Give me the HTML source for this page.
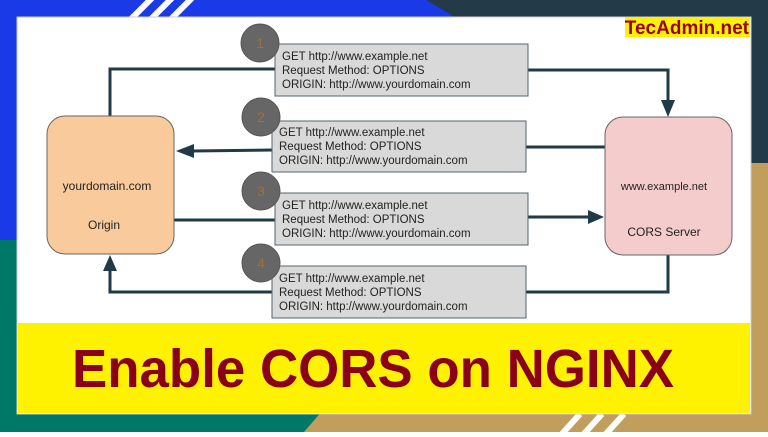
<!DOCTYPE html>
<html><head><style>
body{margin:0;width:768px;height:432px;overflow:hidden;font-family:"Liberation Sans",sans-serif}
</style></head><body>
<svg width="768" height="432" viewBox="0 0 768 432" xmlns="http://www.w3.org/2000/svg" font-family="Liberation Sans, sans-serif">
<rect width="768" height="432" fill="#c29e5c"/>
<polygon points="0,0 768,0 768,163 0,163" fill="#233a48"/>
<polygon points="0,0 426,0 460,20 470,240 0,240" fill="#1a3ae8"/>
<polygon points="0,240 470,240 304,432 0,432" fill="#007868"/>
<g stroke="#fff" stroke-width="6">
<line x1="130" y1="20" x2="152" y2="-2"/><line x1="150" y1="20" x2="172" y2="-2"/><line x1="170" y1="20" x2="192" y2="-2"/>
<line x1="560" y1="436" x2="580" y2="414"/><line x1="582" y1="436" x2="602" y2="414"/><line x1="604" y1="436" x2="624" y2="414"/>
</g>
<rect x="17" y="17" width="734" height="397" fill="#fff" stroke="#ccc"/>
<rect x="18" y="323" width="732" height="90" fill="#fff200"/>
<text x="72" y="387" font-size="54" font-weight="bold" fill="#8a0018" textLength="602" lengthAdjust="spacingAndGlyphs">Enable CORS on NGINX</text>
<rect x="625" y="17" width="125" height="20" fill="#fff200"/>
<text x="749" y="34" text-anchor="end" font-size="19" font-weight="bold" fill="#9a0010">TecAdmin.net</text>
<g stroke="#213a48" stroke-width="3" fill="none">
<polyline points="110,116 110,69 275,69"/>
<polyline points="528,70 668,70 668,100"/>
<line x1="526" y1="147" x2="605" y2="147"/>
<line x1="272" y1="150" x2="192" y2="151"/>
<line x1="174" y1="220" x2="275" y2="220"/>
<line x1="528" y1="217" x2="590" y2="217"/>
<polyline points="668,255 668,292 526,292"/>
<polyline points="272,292 110,292 110,270"/>
</g>
<g fill="#213a48">
<polygon points="661,100 675,100 668,117"/>
<polygon points="176,151 194,144 194,158"/>
<polygon points="588,210 588,224 604,217"/>
<polygon points="103,271 117,271 110,255"/>
</g>
<rect x="47" y="116" width="127" height="138" rx="18" fill="#f9cb9c" stroke="#666"/>
<text x="107" y="190" text-anchor="middle" font-size="12" fill="#222">yourdomain.com</text>
<text x="104" y="229" text-anchor="middle" font-size="12" fill="#222">Origin</text>
<rect x="605" y="117" width="127" height="138" rx="18" fill="#f4cccc" stroke="#666"/>
<text x="664" y="190" text-anchor="middle" font-size="11" fill="#222">www.example.net</text>
<text x="664" y="236" text-anchor="middle" font-size="12" fill="#222">CORS Server</text>
<g font-size="11.5" fill="#222">
<rect x="275" y="44" width="253" height="52" fill="#d9d9d9" stroke="#56656e"/>
<text x="282" y="60">GET http://www.example.net</text><text x="282" y="74">Request Method: OPTIONS</text><text x="282" y="88">ORIGIN: http://www.yourdomain.com</text>
<rect x="272" y="121" width="254" height="51" fill="#d9d9d9" stroke="#56656e"/>
<text x="279" y="136">GET http://www.example.net</text><text x="279" y="150">Request Method: OPTIONS</text><text x="279" y="164">ORIGIN: http://www.yourdomain.com</text>
<rect x="275" y="193" width="253" height="52" fill="#d9d9d9" stroke="#56656e"/>
<text x="282" y="209">GET http://www.example.net</text><text x="282" y="223">Request Method: OPTIONS</text><text x="282" y="237">ORIGIN: http://www.yourdomain.com</text>
<rect x="272" y="266" width="254" height="52" fill="#d9d9d9" stroke="#56656e"/>
<text x="279" y="282">GET http://www.example.net</text><text x="279" y="296">Request Method: OPTIONS</text><text x="279" y="310">ORIGIN: http://www.yourdomain.com</text>
</g>
<g fill="#666" stroke="#555">
<circle cx="260" cy="43" r="19"/><circle cx="261" cy="117" r="19"/><circle cx="261" cy="191" r="19"/><circle cx="261" cy="263" r="19"/>
</g>
<g font-size="14" fill="#a0703a" text-anchor="middle">
<text x="260" y="48">1</text><text x="261" y="122">2</text><text x="261" y="196">3</text><text x="261" y="268">4</text>
</g>
</svg>
</body></html>
